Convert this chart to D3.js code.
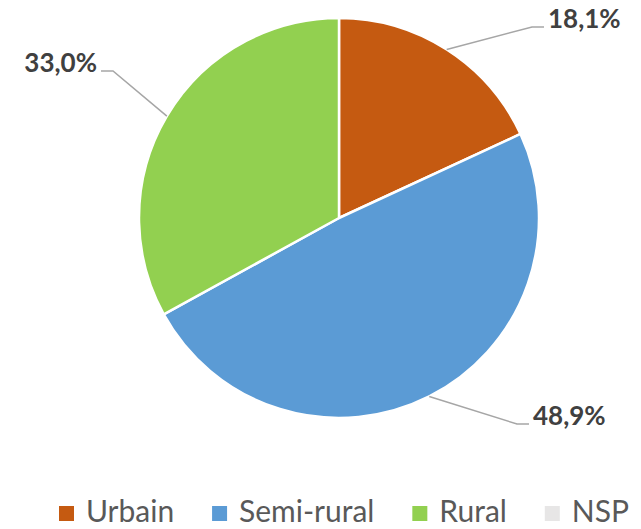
<!DOCTYPE html>
<html lang="fr">
<head>
<meta charset="utf-8">
<title>Répartition Urbain / Semi-rural / Rural</title>
<style>
  body{
    margin: 0;
    padding: 0;
    background: #fff;
    overflow: hidden;
  }
  svg{
    display: block;
  }
  .label{
    font-family: Lato, 'Open Sans', sans-serif;
    font-weight: bold;
    font-size: 26px;
    fill: #404040;
  }
  .legend text{
    font-family: Lato, 'Open Sans', sans-serif;
    font-size: 30px;
    fill: #595959;
  }
  .leader{
    fill: none;
    stroke: #a6a6a6;
    stroke-width: 1.5px;
  }
</style>
</head>
<body>
<svg id="chart" width="641" height="529"></svg>

<script src="https://cdnjs.cloudflare.com/ajax/libs/d3/7.8.5/d3.min.js"></script>
<script>
  // data
  var categories = ['Urbain', 'Semi-rural', 'Rural', 'NSP'],
      values = [18.1, 48.9, 33.0, 0],
      colors = ['#c55a11', '#5b9bd5', '#92d050', '#e7e6e6'];

  // where excel put the label elbows, relative to the pie centre
  var elbows = [[193, -191, 1], [178, 206, 1], [-226, -147, -1], null];

  var svg = d3.select('#chart'),
      cx = 339,
      cy = 218,
      radius = 200;

  var pie = d3.pie().sort(null).value(function (d) { return d; }),
      arc = d3.arc().innerRadius(0).outerRadius(radius),
      arcs = pie(values);

  var fmt = function (v) { return d3.format('.1f')(v).replace('.', ',') + '%'; };

  var g = svg.append('g').attr('transform', 'translate(' + cx + ',' + cy + ')');

  g.selectAll('path.slice')
    .data(arcs.filter(function (d) { return d.value > 0; }))
    .enter().append('path')
    .attr('class', 'slice')
    .attr('d', arc)
    .attr('fill', function (d) { return colors[d.index]; })
    .attr('stroke', '#fff')
    .attr('stroke-width', 2.5)
    .attr('stroke-linejoin', 'round');

  // leader lines + labels
  arcs.forEach(function (d, i) {
    if (!d.value || !elbows[i]) return;
    var mid = (d.startAngle + d.endAngle) / 2,
        p0 = [Math.sin(mid) * radius, -Math.cos(mid) * radius],
        e = elbows[i],
        side = e[2],
        p1 = [e[0], e[1]],
        p2 = [e[0] + side * 12, e[1]];

    g.append('polyline')
      .attr('class', 'leader')
      .attr('points', [p0, p1, p2].map(function (p) { return p.join(','); }).join(' '));

    g.append('text')
      .attr('class', 'label')
      .attr('x', p2[0] + side * 4)
      .attr('y', p2[1] + 1)
      .attr('text-anchor', side > 0 ? 'start' : 'end')
      .text(fmt(d.value));
  });

  // legend, spread between x0 and x1 like the original
  var legend = svg.append('g').attr('class', 'legend'),
      x0 = 59,
      x1 = 629,
      ly = 506,
      box = 15,
      pad = 12;

  var items = legend.selectAll('g')
    .data(categories)
    .enter().append('g');

  items.append('rect')
    .attr('y', ly)
    .attr('width', box)
    .attr('height', box)
    .attr('fill', function (d, i) { return colors[i]; });

  items.append('text')
    .attr('y', ly + 16)
    .text(function (d) { return d; });

  var widths = items.select('text').nodes().map(function (n) { return n.getComputedTextLength(); }),
      used = d3.sum(widths) + categories.length * (box + pad),
      gap = (x1 - x0 - used) / (categories.length - 1),
      lx = x0;

  items.each(function (d, i) {
    var it = d3.select(this);
    it.select('rect').attr('x', lx);
    it.select('text').attr('x', lx + box + pad);
    lx += box + pad + widths[i] + gap;
  });
</script>
</body>
</html>
